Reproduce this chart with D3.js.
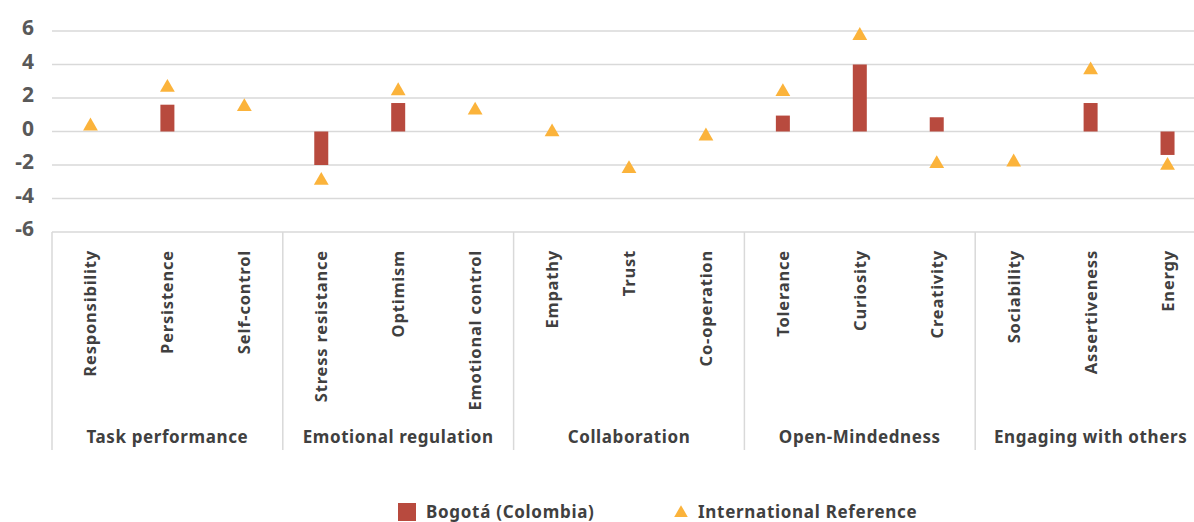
<!DOCTYPE html>
<html>
<head>
<meta charset="utf-8">
<script src="https://cdn.jsdelivr.net/npm/d3@7"></script>
<style>
  body { margin: 0; background: #fff; }
  svg { font-family: "Noto Sans", "Open Sans", sans-serif; }
</style>
</head>
<body>
<div id="chart"></div>
<script>
// data
var groups = ["Task performance", "Emotional regulation", "Collaboration", "Open-Mindedness", "Engaging with others"];
var skills = ["Responsibility", "Persistence", "Self-control",
              "Stress resistance", "Optimism", "Emotional control",
              "Empathy", "Trust", "Co-operation",
              "Tolerance", "Curiosity", "Creativity",
              "Sociability", "Assertiveness", "Energy"];
var bogota = [0, 1.6, 0, -2.0, 1.7, 0, 0, 0, 0, 0.95, 4.0, 0.85, 0, 1.7, -1.4];
var intlRef = [0.45, 2.75, 1.6, -2.8, 2.55, 1.4, 0.1, -2.1, -0.15, 2.5, 5.85, -1.8, -1.7, 3.8, -1.9];
var yTicks = [-6, -4, -2, 0, 2, 4, 6];

var svgWidth = 1194;
var svgHeight = 522;

var plot = { left: 52, right: 1206, top: 31, bottom: 232, axisBottom: 450 };

var svg = d3.select("#chart")
            .append("svg")
            .attr("width", svgWidth)
            .attr("height", svgHeight);

var xScale = d3.scaleBand()
               .domain(skills)
               .range([plot.left, plot.right])
               .padding(0);

var yScale = d3.scaleLinear()
               .domain([-6, 6])
               .range([plot.bottom, plot.top]);

// gridlines
svg.append("g")
   .selectAll("line")
   .data(yTicks)
   .enter()
   .append("line")
   .attr("x1", plot.left)
   .attr("x2", plot.right)
   .attr("y1", function(d){ return yScale(d); })
   .attr("y2", function(d){ return yScale(d); })
   .attr("stroke", "#d9d9d9")
   .attr("stroke-width", 1.5);

// y axis labels
var yAxis = d3.axisLeft(yScale)
              .tickValues(yTicks)
              .tickFormat(function(d){ return String(d); })
              .tickSize(0)
              .tickPadding(0);
var yG = svg.append("g")
            .attr("transform", "translate(34, -3)")
            .call(yAxis);
yG.select(".domain").remove();
yG.selectAll("text")
  .attr("fill", "#595959")
  .style("font-size", "21px")
  .style("font-weight", "700")
  .style("font-family", "'Noto Sans', sans-serif");

// category axis box
var groupWidth = xScale.bandwidth() * 3;
var seps = d3.range(groups.length + 1).map(function(i){ return plot.left + i * groupWidth; });
svg.append("g")
   .selectAll("line")
   .data(seps)
   .enter()
   .append("line")
   .attr("x1", function(d){ return d; })
   .attr("x2", function(d){ return d; })
   .attr("y1", plot.bottom)
   .attr("y2", plot.axisBottom)
   .attr("stroke", "#d9d9d9")
   .attr("stroke-width", 1.5);

// skill labels
svg.append("g")
   .selectAll("text")
   .data(skills)
   .enter()
   .append("text")
   .attr("transform", function(d){
       return "translate(" + (xScale(d) + xScale.bandwidth() / 2 + 6) + "," + (plot.bottom + 18) + ") rotate(-90)";
   })
   .attr("text-anchor", "end")
   .attr("fill", "#404040")
   .style("font-size", "16.5px")
   .style("font-weight", "700")
   .style("letter-spacing", "0.8px")
   .text(function(d){ return d; });

// group labels
svg.append("g")
   .selectAll("text")
   .data(groups)
   .enter()
   .append("text")
   .attr("x", function(d, i){ return plot.left + (i + 0.5) * groupWidth; })
   .attr("y", 443)
   .attr("text-anchor", "middle")
   .attr("fill", "#404040")
   .style("font-size", "17px")
   .style("font-weight", "700")
   .style("letter-spacing", "0.6px")
   .text(function(d){ return d; });

// bars
var barW = 14;
svg.append("g")
   .selectAll("rect")
   .data(bogota)
   .enter()
   .append("rect")
   .attr("x", function(d, i){ return xScale(skills[i]) + xScale.bandwidth() / 2 - barW / 2; })
   .attr("y", function(d){ return yScale(Math.max(0, d)); })
   .attr("width", barW)
   .attr("height", function(d){ return Math.abs(yScale(d) - yScale(0)); })
   .attr("fill", "#b84a3e");

// triangles (centred on their bounding box, like the source chart)
var triSize = 95;
var triShift = Math.sqrt(triSize / (3 * Math.sqrt(3))) / 2;
var tri = d3.symbol().type(d3.symbolTriangle).size(triSize);
svg.append("g")
   .selectAll("path")
   .data(intlRef)
   .enter()
   .append("path")
   .attr("d", tri)
   .attr("transform", function(d, i){
       return "translate(" + (xScale(skills[i]) + xScale.bandwidth() / 2) + "," + (yScale(d) + triShift) + ")";
   })
   .attr("fill", "#fbb33b");

// legend
var legend = svg.append("g")
                .style("font-size", "17px")
                .style("font-weight", "700")
                .style("letter-spacing", "0.7px");
legend.append("rect")
      .attr("x", 398).attr("y", 503)
      .attr("width", 18).attr("height", 18)
      .attr("fill", "#b84a3e");
legend.append("text")
      .attr("x", 426).attr("y", 518)
      .attr("fill", "#404040")
      .text("Bogotá (Colombia)");
legend.append("path")
      .attr("d", d3.symbol().type(d3.symbolTriangle).size(80))
      .attr("transform", "translate(681,513)")
      .attr("fill", "#fbb33b");
legend.append("text")
      .attr("x", 698).attr("y", 518)
      .attr("fill", "#404040")
      .text("International Reference");
</script>
</body>
</html>
